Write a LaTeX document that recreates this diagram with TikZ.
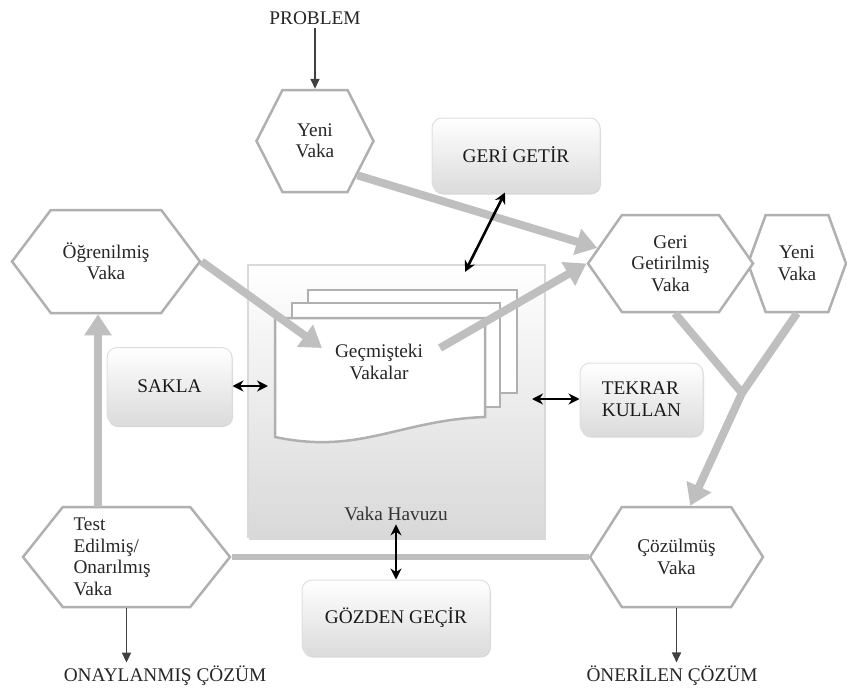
\documentclass[tikz,border=0pt]{standalone}
\usepackage{fontspec}
\setmainfont{Liberation Serif}
\usetikzlibrary{arrows.meta,shapes,shadows,positioning,calc}

\begin{document}
\begin{tikzpicture}[x=1pt, y=-1pt, font=\fontsize{19.3}{21.5}\selectfont,
  hexa/.style={signal, signal to=west and east, draw=gray!62, line width=2.5pt, fill=white, text=black!85, align=center, inner sep=0pt},
  task/.style={rounded corners=10pt, draw=gray!25, line width=1pt, top color=white, bottom color=gray!28, text=black!90, align=left, drop shadow={shadow xshift=1pt, shadow yshift=-2.5pt, opacity=.3}},
  pool/.style={draw=gray!30, line width=1.5pt, top color=white, bottom color=gray!30, minimum width=297pt, minimum height=272pt, drop shadow={shadow xshift=1pt, shadow yshift=-2.5pt, opacity=.3}},
  doc/.style={draw=gray!62, line width=2.5pt, fill=white},
  flow/.style={draw=gray!50, line width=8pt, -{Triangle[length=21pt,width=26pt]}},
  trunk/.style={draw=gray!50, line width=8pt, line join=round},
  link/.style={black, line width=2.6pt, {Stealth[length=11pt,width=11pt]}-{Stealth[length=11pt,width=11pt]}},
  result/.style={draw=black!75, line width=1.7pt, -{Triangle[length=10pt,width=9pt]}}]
\useasboundingbox (0,0) rectangle (847,688);

% case pool with the stacked documents
\node[pool] (pool) at (396.5,401) {};
\draw[doc] (308,290) rectangle (517,393);
\draw[doc] (292,303) rectangle (500,407);
\draw[doc] (275,318) -- (485,318) -- (485,417) .. controls (400,420) and (360,455) .. (275,437) -- cycle;
\node[text=black!85, align=center] (past) at (379,362) {Geçmişteki\\Vakalar};
\node[text=black!80] (havuz) at (396,514) {Vaka Havuzu};

\coordinate (intoDoc) at (322,348);
\coordinate (fromDoc) at (440,348);
\coordinate (merge) at (742,393);
\coordinate (storeEnd) at (268,386);
\coordinate (reuseEnd) at (532,399);
\coordinate (getirEnd) at (465,272);
\coordinate (learnUp) at (98,507);

% steps
\node[task, minimum width=168pt, minimum height=74pt] (getir) at (516,155) {GERİ GETİR};
\node[task, minimum width=125pt, minimum height=77pt] (sakla) at (169.5,386) {SAKLA};
\node[task, minimum width=123pt, minimum height=72pt] (tekrar) at (641.5,399) {TEKRAR\\KULLAN};
\node[task, minimum width=188pt, minimum height=75pt] (gozden) at (396,617.5) {GÖZDEN GEÇİR};

% cases
\node[hexa, minimum width=117pt, minimum height=102pt, signal pointer angle=126] (yeni) at (315,141) {Yeni\\Vaka};
\node[hexa, minimum width=188pt, minimum height=103pt, signal pointer angle=106] (ogren) at (106,261.5) {Öğrenilmiş\\Vaka};
\node[hexa, minimum width=98pt, minimum height=97pt, signal pointer angle=140] (yeni2) at (797,263.5) {Yeni\\Vaka};
\node[hexa, minimum width=165pt, minimum height=97pt, signal pointer angle=110] (geri) at (670.5,263.5) {Geri\\Getirilmiş\\Vaka};
\node[hexa, minimum width=207pt, minimum height=100pt, signal pointer angle=103, text width=106pt, align=left] (test) at (126.5,557) {Test\\Edilmiş/\\Onarılmış\\Vaka};
\node[hexa, minimum width=173pt, minimum height=100pt, signal pointer angle=115] (cozum) at (676.5,557) {Çözülmüş\\Vaka};

\node[text=black!85] (problem) at (315,18) {PROBLEM};
\node[text=black!85] (approved) at (165,676) {ONAYLANMIŞ ÇÖZÜM};
\node[text=black!85] (proposed) at (672,676) {ÖNERİLEN ÇÖZÜM};

% thick flows
\draw[trunk] (geri.-85) -- (merge) -- (yeni2.south);
\draw[flow] (merge) -- (cozum.75);
\draw[trunk, line width=6pt] (test.east) -- (cozum.west);
\draw[flow] (yeni.-39) -- (geri.168);
\draw[flow] (ogren.east) -- (intoDoc);
\draw[flow] (fromDoc) -- (geri.west);
\draw[flow] (learnUp) -- (learnUp |- ogren.south);

\draw[result] (problem) -- (yeni);
\draw[result] (test.south) -- (test.south |- approved.north);
\draw[result] (cozum.south) -- (cozum.south |- proposed.north);

\path[link] (sakla) edge (storeEnd)
            (tekrar) edge (reuseEnd)
            ([xshift=-11pt]getir.south) edge (getirEnd)
            (gozden) edge (havuz);
\end{tikzpicture}
\end{document}
